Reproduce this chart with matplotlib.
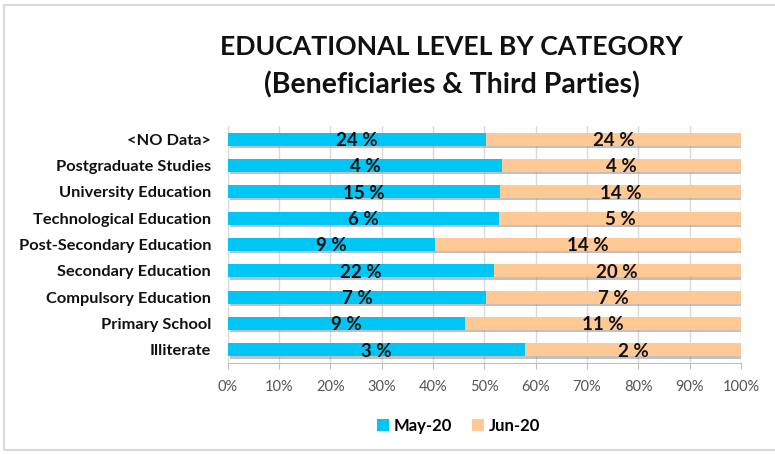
import matplotlib
matplotlib.use("Agg")
import matplotlib.pyplot as plt
import matplotlib.patheffects as pe
from matplotlib.patches import Rectangle
from matplotlib.ticker import PercentFormatter

# categories bottom -> top
categories = [
    "Illiterate",
    "Primary School",
    "Compulsory Education",
    "Secondary Education",
    "Post-Secondary Education",
    "Technological Education",
    "University Education",
    "Postgraduate Studies",
    "<NO Data>",
]
# share of each month's total (%)
may_20 = [2.9, 9.3, 7.2, 21.6, 9.4, 5.6, 15.4, 4.2, 24.2]
jun_20 = [2.1, 10.8, 7.1, 20.1, 13.9, 5.0, 13.6, 3.65, 23.9]
series_names = ["May-20", "Jun-20"]
colors = ["#00C6F6", "#FFC995"]

FONT = "Lato"

fig = plt.figure(figsize=(7.75, 4.54), dpi=100)
ax = fig.add_axes([0.294, 0.2004, 0.662, 0.5221])

totals = [m + j for m, j in zip(may_20, jun_20)]
may_pct = [m / t * 100 for m, t in zip(may_20, totals)]
jun_pct = [j / t * 100 for j, t in zip(jun_20, totals)]
y = list(range(len(categories)))

b1 = ax.barh(y, may_pct, height=0.5, color=colors[0], label=series_names[0], zorder=3)
b2 = ax.barh(y, jun_pct, left=may_pct, height=0.5, color=colors[1], label=series_names[1], zorder=3)

# legend first, so its handles don't pick up the bar shadow
leg = fig.legend(loc="center", bbox_to_anchor=(0.592, 0.062), ncol=2, frameon=False,
                 prop={"family": FONT, "weight": "bold", "size": 12},
                 handlelength=0.7, handleheight=0.7, handletextpad=0.3, columnspacing=1.2)

shadow = [pe.SimplePatchShadow(offset=(1.5, -1.5), shadow_rgbFace="#999999", alpha=0.6), pe.Normal()]
for b in list(b1) + list(b2):
    b.set_path_effects(shadow)

for i in y:
    ax.text(may_pct[i] / 2, i - 0.05, f"{round(may_20[i])} %", ha="center", va="center",
            fontsize=13.5, fontweight="bold", family=FONT, color="#111111", zorder=4)
    ax.text(may_pct[i] + jun_pct[i] / 2, i - 0.05, f"{round(jun_20[i])} %", ha="center", va="center",
            fontsize=13.5, fontweight="bold", family=FONT, color="#111111", zorder=4)

ax.set_xlim(0, 100)
ax.set_ylim(-0.5, len(categories) - 0.5)
ax.set_xticks(range(0, 101, 10))
ax.xaxis.set_major_formatter(PercentFormatter(decimals=0))
ax.set_yticks(y)
ax.set_yticklabels(categories, fontweight="bold", family=FONT, fontsize=11.8, color="#111111")
for lab in ax.get_xticklabels():
    lab.set_family(FONT)
    lab.set_fontsize(10.5)
    lab.set_color("#555555")
ax.tick_params(axis="y", length=0, pad=12)
ax.tick_params(axis="x", length=4, color="#BFBFBF", pad=8)
ax.grid(axis="x", color="#D9D9D9", linewidth=1, zorder=0)
for s in ["top", "right", "left"]:
    ax.spines[s].set_visible(False)
ax.spines["bottom"].set_color("#BFBFBF")

fig.text(0.583, 0.896, "EDUCATIONAL LEVEL BY CATEGORY", ha="center", va="center",
         fontsize=19.2, fontweight="bold", family=FONT, color="#111111")
fig.text(0.583, 0.813, "(Beneficiaries & Third Parties)", ha="center", va="center",
         fontsize=20.5, fontweight="bold", family=FONT, color="#111111")

fig.patches.append(Rectangle((4 / 775, 4 / 454), 1.2, 445 / 454, transform=fig.transFigure,
                             fill=False, edgecolor="#D9D9D9", linewidth=1.5))

fig.savefig("out.png", dpi=100)
